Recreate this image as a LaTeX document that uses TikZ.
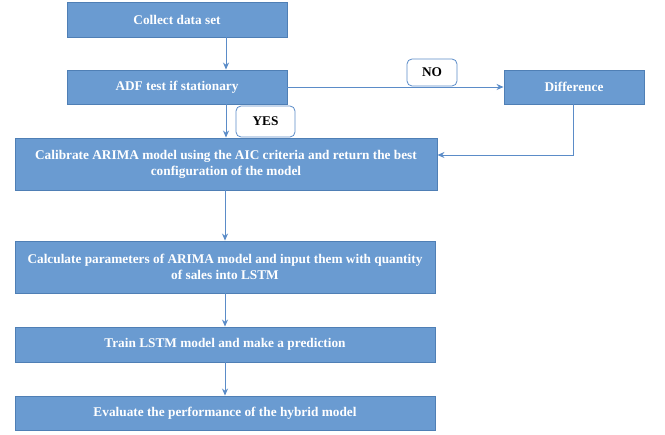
\documentclass[tikz,border=0pt]{standalone}
\usepackage{fontspec}
\setmainfont{Liberation Serif}
\usetikzlibrary{arrows.meta}
\definecolor{boxblue}{HTML}{6A9BD1}
\definecolor{boxedge}{HTML}{4F7FB5}
\definecolor{arrowblue}{HTML}{5B8CC8}
\tikzset{
  procbox/.style={draw=boxedge, line width=0.9pt, fill=boxblue, text=white, font=\bfseries\fontsize{13.3}{16}\selectfont, align=center, inner sep=2pt},
  tagbox/.style={draw=arrowblue, line width=0.8pt, fill=white, rounded corners=5pt, text=black, font=\bfseries\fontsize{13.3}{16}\selectfont, inner sep=1pt},
  arr/.style={draw=arrowblue, line width=0.8pt, -{Stealth[length=7pt,width=6pt]}}
}
\begin{document}
\begin{tikzpicture}[x=1pt,y=-1pt]
\useasboundingbox (0,0) rectangle (665,435);
\node[procbox, minimum width=220, minimum height=35] (collect) at (177,19.5) {Collect data set};
\node[procbox, minimum width=220, minimum height=34] (adf) at (177,87) {ADF test if stationary};
\node[procbox, minimum width=140, minimum height=34] (diff) at (574,87) {Difference};
\node[procbox, minimum width=422, minimum height=52] (calib) at (226,164) {Calibrate ARIMA model using the AIC criteria and return the best\\configuration of the model};
\node[procbox, minimum width=420, minimum height=52] (calc) at (225,267) {Calculate parameters of ARIMA model and input them with quantity\\of sales into LSTM};
\node[procbox, minimum width=420, minimum height=35] (train) at (225,344.5) {Train LSTM model and make a prediction};
\node[procbox, minimum width=420, minimum height=34] (eval) at (225,413) {Evaluate the performance of the hybrid model};
\node[tagbox, minimum width=50, minimum height=27] (no) at (432,72.5) {NO};
\node[tagbox, minimum width=59, minimum height=31] (yes) at (265.5,121.5) {YES};
\coordinate (bend) at (573,155);
\draw[arr] (collect.south -| calib.north) -- (adf.north -| calib.north);
\draw[arr] (adf.south -| calib.north) -- (calib.north);
\draw[arr] (adf.east) -- (diff.west);
\draw[arr] (diff.south -| bend) -- (bend) -- (bend -| calib.east);
\draw[arr] (calib.south -| calc.north) -- (calc.north);
\draw[arr] (calc.south) -- (train.north);
\draw[arr] (train.south) -- (eval.north);
\end{tikzpicture}
\end{document}
